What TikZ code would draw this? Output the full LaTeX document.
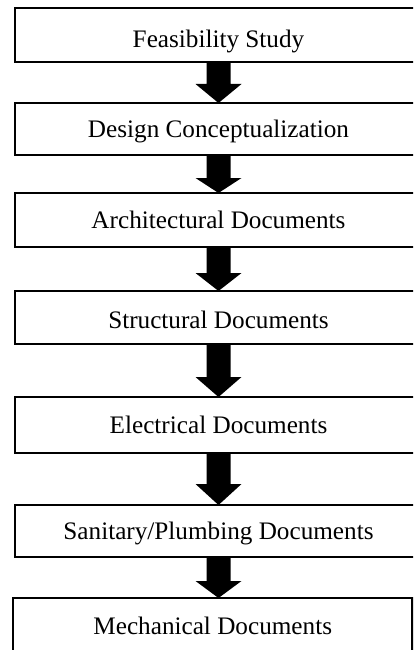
\documentclass[tikz,border=0pt]{standalone}
\usepackage{fontspec}
\setmainfont{Liberation Serif}
\usetikzlibrary{calc}

\tikzset{
  stagebox/.style={rectangle, fill=white,
    inner sep=0pt, outer sep=0pt, minimum width=407pt,
    text depth=0pt, text height=16pt,
    font=\fontsize{25.2}{30}\selectfont},
  boxline/.style={draw=black, line width=2.8pt},
  flowfill/.style={fill=black}
}

% box outline that runs on past the right edge of the page
\newcommand{\openbox}[1]{%
  \draw[boxline] ($(#1.north east)+(50pt,0)$) -- (#1.north west)
    -- (#1.south west) -- ($(#1.south east)+(50pt,0)$);}

% block arrow from the bottom of one box to the top of the next
\newcommand{\flowarrow}[3]{%
  \fill[flowfill] let \p1=(#1.south), \p2=(#2.north) in
    (\x1-12pt,\y1) -- (\x1+12pt,\y1) -- (\x1+12pt,\y2+#3pt) --
    (\x1+23pt,\y2+#3pt) -- (\x1,\y2) -- (\x1-23pt,\y2+#3pt) --
    (\x1-12pt,\y2+#3pt) -- cycle;}

\begin{document}
\begin{tikzpicture}[x=1pt,y=-1pt]
  \useasboundingbox (0,0) rectangle (413,650);
  \begin{scope}
    \clip (0,0) rectangle (413,650);

    \node[stagebox, minimum height=54pt, text height=26pt] (feas) at (218.5,35) {Feasibility Study};
    \node[stagebox, minimum height=52pt] (design) at (218.5,129) {Design Conceptualization};
    \node[stagebox, minimum height=54pt] (arch) at (218.5,220) {Architectural Documents};
    \node[stagebox, minimum height=53pt, text height=21pt] (struct) at (218.5,317.5) {Structural Documents};
    \node[stagebox, minimum height=56pt] (elec) at (218.5,425) {Electrical Documents};
    \node[stagebox, minimum height=52pt] (sanit) at (218.5,531) {Sanitary/Plumbing Documents};
    \node[stagebox, boxline, minimum height=56pt, minimum width=399.5pt] (mech) at (212.75,626) {Mechanical Documents};

    \openbox{feas}
    \openbox{design}
    \openbox{arch}
    \openbox{struct}
    \openbox{elec}
    \openbox{sanit}

    \flowarrow{feas}{design}{19}
    \flowarrow{design}{arch}{15}
    \flowarrow{arch}{struct}{18}
    \flowarrow{struct}{elec}{20}
    \flowarrow{elec}{sanit}{21}
    \flowarrow{sanit}{mech}{17}
  \end{scope}
\end{tikzpicture}
\end{document}
